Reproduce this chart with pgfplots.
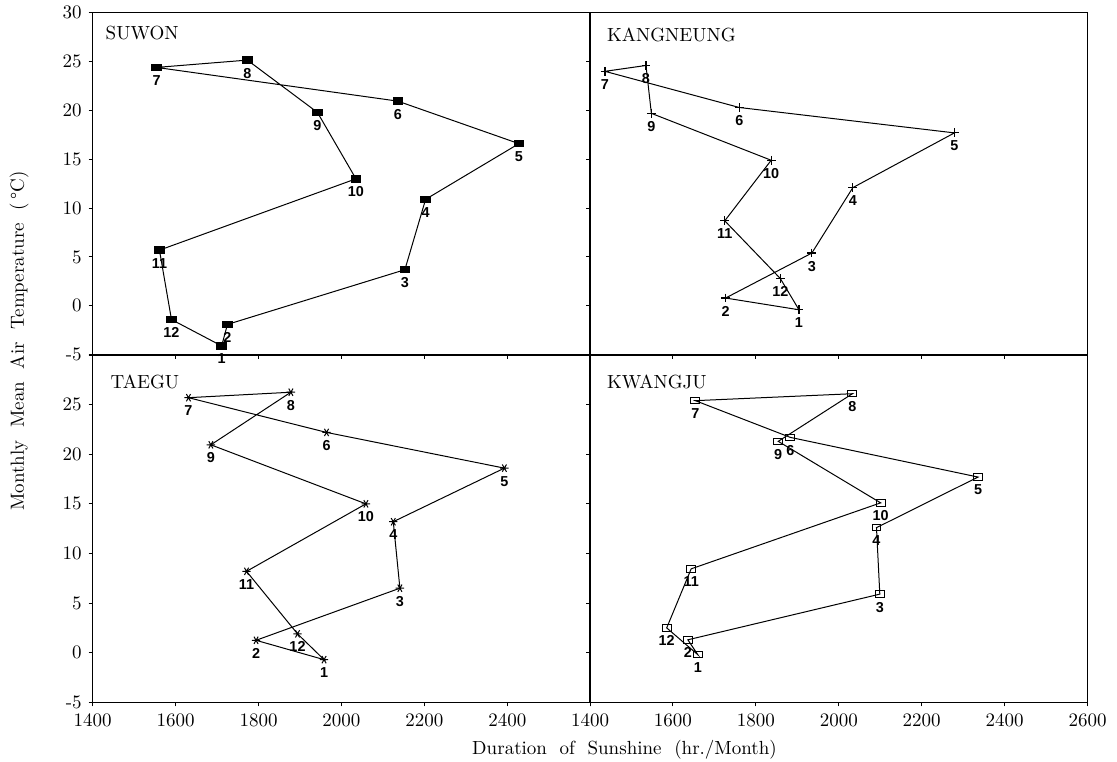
\documentclass[border=0pt]{standalone}
\usepackage{fontspec}
\usepackage{pgfplots}
\pgfplotsset{compat=1.18}
\usepackage{pgfplotstable}
\newfontfamily\labfont{Liberation Sans}

\pgfplotstableread{
x y lab
1711 -4.1 1
1725 -1.9 2
2153 3.7 3
2203 10.9 4
2428 16.6 5
2136 20.95 6
1554 24.4 7
1773 25.15 8
1942 19.8 9
2035 13.0 10
1561 5.7 11
1590 -1.4 12
}\suwon

\pgfplotstableread{
x y lab
1904 -0.4 1
1727 0.8 2
1935 5.4 3
2034 12.1 4
2279 17.7 5
1760 20.3 6
1436 24.0 7
1535 24.6 8
1548 19.7 9
1837 14.9 10
1725 8.7 11
1859 2.8 12
}\kangneung

\pgfplotstableread{
x y lab
1958 -0.7 1
1794 1.25 2
2141 6.5 3
2125 13.2 4
2393 18.6 5
1964 22.2 6
1631 25.7 7
1878 26.25 8
1685 20.95 9
2059 15.0 10
1771 8.2 11
1894 1.9 12
}\taegu

\pgfplotstableread{
x y lab
1660 -0.2 1
1636 1.3 2
2099 5.9 3
2091 12.6 4
2336 17.7 5
1883 21.7 6
1654 25.4 7
2033 26.1 8
1854 21.3 9
2101 15.1 10
1644 8.45 11
1585 2.5 12
}\kwangju

\pgfplotsset{
  panel/.style={
    scale only axis, width=248.75pt,
    xmin=1400, xmax=2600, ymin=-5, ymax=30,
    xtick={1400,1600,...,2600}, ytick={-5,0,...,30},
    tick align=outside, xtick pos=bottom, ytick pos=left,
    major tick length=2pt,
    axis line style={line width=0.7pt},
    major tick style={line width=0.5pt, black},
    tick label style={font=\fontsize{9.5}{11}\selectfont},
    /pgf/number format/assume math mode=true,
    /pgf/number format/1000 sep={},
    clip=false,
  },
  series/.style={black, line width=0.5pt,
    point meta=explicit symbolic,
    nodes near coords={\labfont\bfseries\fontsize{7.2}{8}\selectfont\pgfplotspointmeta},
    every node near coord/.append style={anchor=center, yshift=-6.5pt, inner sep=0pt},
  },
}
\tikzset{ttl/.style={anchor=west, font=\fontsize{9.5}{11}\selectfont}}

\begin{document}
\begin{tikzpicture}
\path[use as bounding box] (0pt,0pt) rectangle (558.5pt,-380.5pt);

% top-left SUWON
\begin{axis}[panel, height=171pt, at={(46.35pt,-6.35pt)}, anchor=north west,
  xticklabels={}]
\addplot[series, mark=square*, mark size=1.6pt, mark options={xscale=1.5, solid, fill=black}]
  table[x=x, y=y, meta=lab] {\suwon} -- cycle;
\node[ttl] at (rel axis cs:0.012,0.94) {SUWON};
\end{axis}

% top-right KANGNEUNG
\begin{axis}[panel, height=171pt, at={(295pt,-6.35pt)}, anchor=north west,
  xticklabels={}, yticklabels={}]
\addplot[series, mark=+, mark size=2.2pt, mark options={solid, line width=0.6pt}]
  table[x=x, y=y, meta=lab] {\kangneung} -- cycle;
\node[ttl] at (rel axis cs:0.02,0.935) {KANGNEUNG};
\end{axis}

% bottom-left TAEGU
\begin{axis}[panel, height=173.65pt, at={(46.35pt,-177.5pt)}, anchor=north west,
  xticklabels={1400,1600,1800,2000,2200,2400,},
  yticklabels={-5,0,5,10,15,20,25,}]
\addplot[series, mark=asterisk, mark size=2.1pt, mark options={solid, rotate=90, line width=0.5pt}]
  table[x=x, y=y, meta=lab] {\taegu} -- cycle;
\node[ttl] at (rel axis cs:0.022,0.922) {TAEGU};
\end{axis}

% bottom-right KWANGJU
\begin{axis}[panel, height=173.65pt, at={(295pt,-177.5pt)}, anchor=north west,
  yticklabels={}]
\addplot[series, mark=square, mark size=1.6pt, mark options={xscale=1.4, solid, line width=0.5pt}]
  table[x=x, y=y, meta=lab] {\kwangju} -- cycle;
\node[ttl] at (rel axis cs:0.02,0.922) {KWANGJU};
\end{axis}

\node[rotate=90, font=\fontsize{9.5}{11}\selectfont] at (9.5pt,-170.5pt)
  {Monthly\ \ Mean\ \ Air\ \ Temperature\ \ (\,\textdegree C)};
\node[font=\fontsize{9.5}{11}\selectfont] at (312.25pt,-375pt)
  {Duration\ \ of\ \ Sunshine\ \ (hr./Month)};
\end{tikzpicture}
\end{document}
